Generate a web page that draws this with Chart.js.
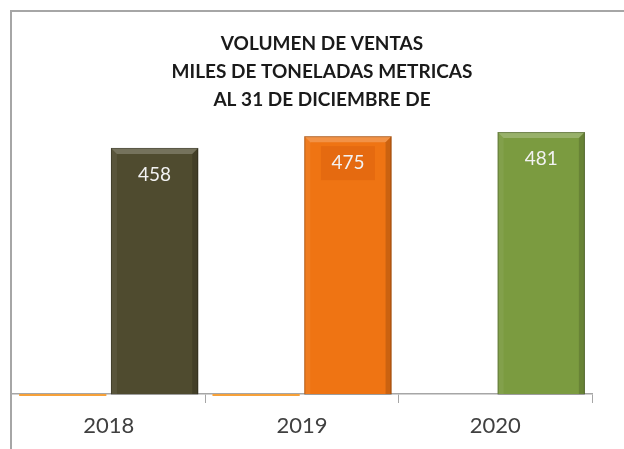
<!DOCTYPE html>
<html>
<head>
<meta charset="utf-8">
<script src="https://cdn.jsdelivr.net/npm/chart.js@4/dist/chart.umd.min.js"></script>
<style>
  html, body { margin: 0; padding: 0; background: #fff; }
  #wrap { position: relative; width: 624px; height: 449px; }
  #frame { position: absolute; left: 10px; top: 10px; right: 0; bottom: 0;
           border-left: 2px solid #a6a6a6; border-top: 2px solid #a6a6a6; }
  canvas { position: absolute; left: 0; top: 0; }
</style>
</head>
<body>
<div id="wrap">
  <div id="frame"></div>
  <canvas id="chartVentas" width="624" height="449"></canvas>
</div>
<script>
var years = ["2018", "2019", "2020"];
var ventas = [458, 475, 481];
var serieCero = [0, 0, null];
var titulo = ["VOLUMEN DE VENTAS", "MILES DE TONELADAS METRICAS", "AL 31 DE DICIEMBRE DE"];

var colores = ['#4f4b2f', '#ef7413', '#7b9b40'];
var fondoEtiqueta = [null, '#e56a10', null];

// titulo centrado en el marco (no en el area del grafico)
var tituloPlugin = {
    id: 'tituloExcel',
    afterDraw: function(chart) {
        var ctx = chart.ctx;
        ctx.save();
        ctx.fillStyle = '#1a1a1a';
        ctx.font = 'bold 19px Lato';
        ctx.textAlign = 'center';
        ctx.textBaseline = 'middle';
        titulo.forEach(function(linea, i) {
            ctx.fillText(linea, 322, 44 + i * 28);
        });
        ctx.restore();
    }
};

// bisel tipo excel + etiquetas dentro de la barra
var biselPlugin = {
    id: 'bisel',
    afterDatasetsDraw: function(chart) {
        var ctx = chart.ctx;
        var meta = chart.getDatasetMeta(1);
        meta.data.forEach(function(bar, i) {
            var l = bar.x - bar.width / 2, r = bar.x + bar.width / 2;
            var t = bar.y, b = Math.min(bar.base, chart.chartArea.bottom), d = 6;
            ctx.save();
            ctx.fillStyle = 'rgba(255,255,255,0.22)';
            ctx.beginPath();
            ctx.moveTo(l, t); ctx.lineTo(r, t); ctx.lineTo(r - d, t + d); ctx.lineTo(l + d, t + d);
            ctx.closePath(); ctx.fill();
            ctx.fillStyle = 'rgba(255,255,255,0.06)';
            ctx.beginPath();
            ctx.moveTo(l, t); ctx.lineTo(l + d, t + d); ctx.lineTo(l + d, b); ctx.lineTo(l, b);
            ctx.closePath(); ctx.fill();
            ctx.fillStyle = 'rgba(0,0,0,0.15)';
            ctx.beginPath();
            ctx.moveTo(r, t); ctx.lineTo(r - d, t + d); ctx.lineTo(r - d, b); ctx.lineTo(r, b);
            ctx.closePath(); ctx.fill();
            ctx.strokeStyle = 'rgba(0,0,0,0.25)';
            ctx.lineWidth = 1;
            ctx.strokeRect(l + 0.5, t + 0.5, r - l - 1, b - t);

            var ty = t + 27;
            if (fondoEtiqueta[i]) {
                ctx.fillStyle = fondoEtiqueta[i];
                ctx.fillRect(bar.x - 27, ty - 17, 54, 34);
            }
            ctx.fillStyle = '#f2f2f2';
            ctx.font = '19px Lato';
            ctx.textAlign = 'center';
            ctx.textBaseline = 'middle';
            ctx.fillText(String(ventas[i]), bar.x, ty);
            ctx.restore();
        });
    }
};

var ctx = document.getElementById('chartVentas').getContext('2d');
var chartVentas = new Chart(ctx, {
    type: 'bar',
    data: {
        labels: years,
        datasets: [{
            label: 'serie 1',
            data: serieCero,
            base: 100,
            backgroundColor: '#f6a13a',
            clip: {left: 0, top: 0, right: 0, bottom: 2},
            categoryPercentage: 0.95,
            barPercentage: 0.95
        }, {
            label: 'Ventas',
            data: ventas,
            base: 100,
            backgroundColor: colores,
            categoryPercentage: 0.95,
            barPercentage: 0.95
        }]
    },
    options: {
        responsive: false,
        animation: false,
        layout: { padding: { left: 12, right: 32, top: 119, bottom: 0 } },
        plugins: {
            legend: { display: false },
            tooltip: { enabled: false },
            title: { display: false }
        },
        scales: {
            x: {
                z: 1,
                grid: { offset: true, drawOnChartArea: false, color: '#a6a6a6', tickLength: 9 },
                border: { color: '#a6a6a6', width: 1.5 },
                ticks: { color: '#404040', padding: 12, font: { family: 'Lato', size: 22, lineHeight: 1 } }
            },
            y: {
                display: false,
                min: 100,
                max: 500
            }
        }
    },
    plugins: [biselPlugin, tituloPlugin]
});
</script>
</body>
</html>
